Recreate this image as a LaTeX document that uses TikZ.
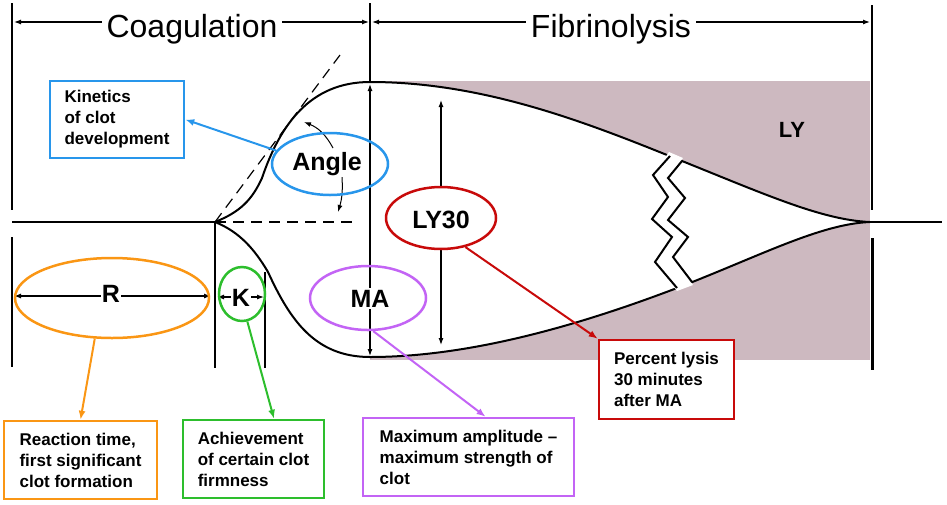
\documentclass[tikz,border=0pt]{standalone}
\usepackage{fontspec}
\setmainfont{Liberation Sans}
\usepackage{tikz}
\usetikzlibrary{arrows.meta,shapes.geometric}
\definecolor{TegBlue}{RGB}{40,150,235}
\definecolor{TegOrange}{RGB}{250,150,20}
\definecolor{TegGreen}{RGB}{45,190,45}
\definecolor{TegViolet}{RGB}{195,100,245}
\definecolor{TegRed}{RGB}{200,10,10}
\definecolor{TegLysis}{RGB}{205,185,192}

\begin{document}
\begin{tikzpicture}[x=1pt,y=-1pt,line width=2pt,arr/.style={-{Latex[length=7pt,width=5pt]},line width=1pt},dblarr/.style={{Latex[length=7pt,width=5pt]}-{Latex[length=7pt,width=5pt]},line width=1.2pt},oval/.style n args={3}{ellipse,draw=#1,line width=2.5pt,minimum width=#2,minimum height=#3,inner sep=0pt},lbl/.style={font=\fontsize{25}{25}\selectfont\bfseries,anchor=base,fill=white,inner sep=2pt},note/.style n args={3}{draw=#1,fill=white,line width=2.5pt,minimum width=#2,minimum height=#3,align=left,inner sep=0pt,font=\fontsize{17}{21}\selectfont\bfseries},callout/.style={-{Latex[length=9pt,width=7pt]},line width=2pt,#1}]
    \useasboundingbox (0,0) rectangle (947,504);
    % lysis area
    \fill[TegLysis] (370,81) rectangle (870,360);
    % clot trace
    \filldraw[fill=white] (215,222) .. controls (240,212) and (252,200) .. (262,178)
       .. controls (280,125) and (310,82) .. (370,82)
       .. controls (480,82) and (580,120) .. (667,155)
       .. controls (760,192) and (820,220) .. (870,222)
       .. controls (820,224) and (760,256) .. (677,288)
       .. controls (580,325) and (470,357) .. (370,357)
       .. controls (315,357) and (290,320) .. (268,272)
       .. controls (255,250) and (240,232) .. (215,222) -- cycle;
    \draw (12,222) -- (215,222);
    \draw (870,222) -- (942,222);
    \foreach \xa/\ya/\yb in %
    {12/3/210,12/237/367,215/222/368,265/272/368,370/3/82,872/5/210} {
       \draw (\xa,\ya) -- (\xa,\yb);
    }
    \draw[line width=3pt] (872,238) -- (872,370);
    \draw[line width=1.2pt,dash pattern=on 11pt off 7pt] (215,222) -- (340,55);
    \draw[line width=1.2pt,dash pattern=on 11pt off 7pt] (215,222) -- (358,222);
    % break in the trace
    \fill[white] (669,152) -- (653,175) -- (668,197) -- (652,219) -- (672,237) -- (655,262) -- (677,291)
       -- (693,285) -- (673,257) -- (688,237) -- (668,220) -- (685,198) -- (668,178) -- (683,158) -- cycle;
    \draw (670,156) -- (653,175) -- (668,197) -- (652,219) -- (672,237) -- (655,262) -- (677,288);
    \draw (682,161) -- (668,178) -- (685,198) -- (668,220) -- (688,237) -- (673,257) -- (692,282);
    % phases
    \coordinate (coagl) at (14,22);
    \coordinate (coagr) at (369,22);
    \coordinate (fibl) at (372,22);
    \coordinate (fibr) at (870,22);
    \draw[dblarr] (coagl) -- (coagr);
    \draw[dblarr] (fibl) -- (fibr);
    \node[font=\fontsize{32}{32}\selectfont,anchor=base,fill=white,inner xsep=5pt] (coag) at (192,37) {Coagulation};
    \node[font=\fontsize{32}{32}\selectfont,anchor=base,fill=white,inner xsep=5pt] (fib) at (611,37) {Fibrinolysis};
    % measured values
    \coordinate (matop) at (370,84);
    \coordinate (mabot) at (370,356);
    \coordinate (lytop) at (441,100);
    \coordinate (lybot) at (441,345);
    \coordinate (rl) at (14,296);
    \coordinate (rr) at (211,296);
    \coordinate (kl) at (217,297);
    \coordinate (kr) at (264,297);
    \coordinate (anga) at (333,148);
    \coordinate (angb) at (304,122);
    \coordinate (angc) at (342,177);
    \coordinate (angd) at (338,212);
    \draw[dblarr] (matop) -- (mabot);
    \draw[dblarr] (lytop) -- (lybot);
    \draw[dblarr] (rl) -- (rr);
    \draw[dblarr] (kl) -- (kr);
    \draw[arr] (anga) to[bend right=20] (angb);
    \draw[arr] (angc) to[bend left=10] (angd);
    \node[oval={TegBlue}{116}{62}] (angell) at (330,164) {};
    \node[lbl] (angtxt) at (327,170) {Angle};
    \node[oval={TegRed}{110}{62},fill=white] (lyell) at (441,218) {};
    \node[lbl] (lytxt) at (441,228) {LY30};
    \node[oval={TegViolet}{116}{64}] (maell) at (368,298) {};
    \node[lbl] (matxt) at (370,307) {MA};
    \node[oval={TegOrange}{194}{80}] (rell) at (112,298) {};
    \node[lbl,inner sep=1pt] (rtxt) at (111,302) {R};
    \node[oval={TegGreen}{46}{54}] (kell) at (242,294) {};
    \node[lbl,inner sep=1pt] (ktxt) at (241,306) {K};
    \node[font=\fontsize{22}{22}\selectfont\bfseries,anchor=base] (lyarea) at (792,137) {LY};
    % explanations
    \node[note={TegBlue}{134}{77}] (kinbox) at (117,119.5) {Kinetics\\of clot\\development};
    \node[note={TegOrange}{153}{78}] (reabox) at (80.5,460) {Reaction time,\\first significant\\clot formation};
    \node[note={TegGreen}{141}{78}] (achbox) at (253.5,459) {Achievement\\of certain clot\\firmness};
    \node[note={TegViolet}{211}{78}] (maxbox) at (468.5,457) {Maximum amplitude --\\maximum strength of\\clot};
    \node[note={TegRed}{135}{79}] (perbox) at (666.5,379.5) {Percent lysis\\30 minutes\\after MA};
    \draw[callout=TegBlue] (angell.166) -- (kinbox.east);
    \draw[callout=TegOrange] (rell.247) -- (reabox.north);
    \draw[callout=TegGreen] (kell.281) -- (achbox.63);
    \draw[callout=TegViolet] (maell.279) -- (maxbox.67);
    \draw[callout=TegRed] (lyell.310) -- (perbox.north west);
\end{tikzpicture}
\end{document}
